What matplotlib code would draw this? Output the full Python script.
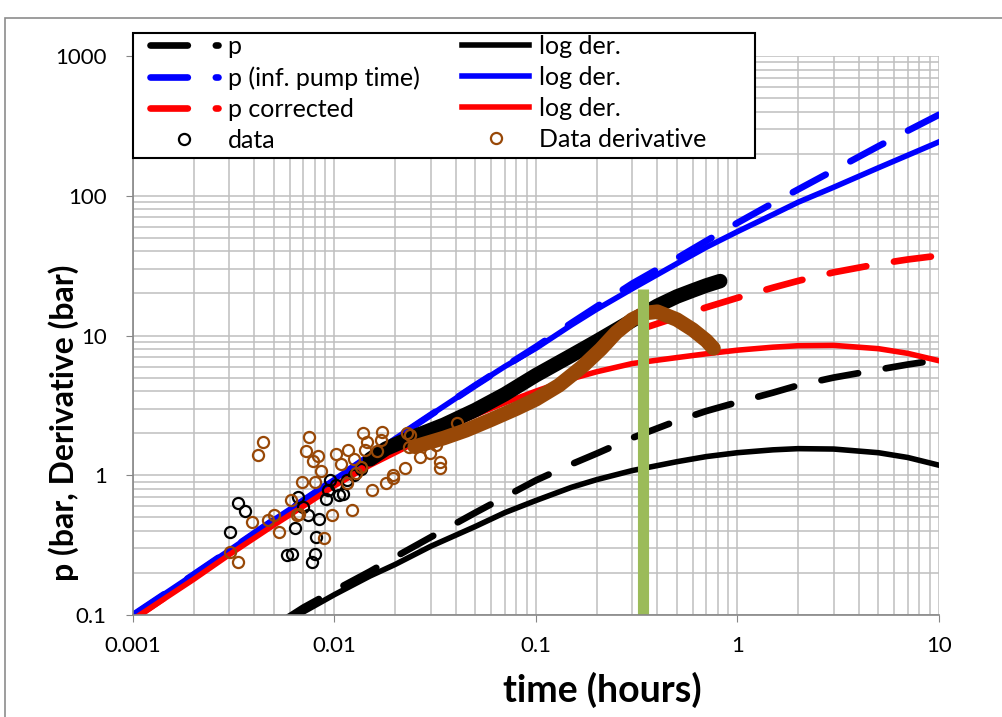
import matplotlib
matplotlib.use("Agg")
import matplotlib.pyplot as plt
from matplotlib.patches import Rectangle

plt.rcParams['font.family'] = ['Lato', 'DejaVu Sans']

# model curves, time in hours, pressure in bar
t_model = [0.001, 0.002, 0.003, 0.005, 0.007, 0.01, 0.015, 0.02, 0.03, 0.05, 0.07, 0.1,
           0.15, 0.2, 0.3, 0.5, 0.7, 1, 1.5, 2, 3, 5, 7, 10]
p_inf = [0.1, 0.195, 0.29, 0.48, 0.66, 0.935, 1.38, 1.83, 2.7, 4.4, 6.0, 8.3,
         12.3, 16.1, 23.5, 35.7, 47.5, 64, 88.6, 111, 152, 226, 292, 380]
der_inf = [0.1, 0.195, 0.29, 0.48, 0.66, 0.935, 1.38, 1.83, 2.7, 4.4, 6.0, 8.1,
           11.9, 15.4, 21.6, 32.7, 42.8, 55.4, 73.4, 89.9, 115, 158.5, 195, 243]
p_corr = [0.093, 0.185, 0.28, 0.46, 0.63, 0.88, 1.28, 1.62, 2.1, 3.05, 3.9, 5.3,
          7.2, 8.6, 10.6, 13.5, 15.9, 18.6, 22, 24.6, 28.3, 32.5, 35, 37.3]
der_corr = [0.093, 0.18, 0.27, 0.44, 0.6, 0.84, 1.18, 1.45, 1.95, 2.7, 3.3, 4.0,
            4.9, 5.5, 6.3, 6.95, 7.4, 7.85, 8.25, 8.45, 8.5, 8.05, 7.45, 6.6]

t_p = [0.0058, 0.007, 0.01, 0.015, 0.02, 0.03, 0.05, 0.07, 0.1, 0.15, 0.2, 0.3, 0.5,
       0.7, 1, 1.5, 2, 3, 5, 7, 10]
p_p = [0.095, 0.113, 0.15, 0.205, 0.26, 0.36, 0.54, 0.7, 0.92, 1.2, 1.43, 1.85, 2.45,
       2.88, 3.33, 3.9, 4.4, 5.0, 5.7, 6.2, 6.7]
der_p = [0.088, 0.105, 0.14, 0.19, 0.23, 0.31, 0.43, 0.54, 0.66, 0.82, 0.93, 1.08, 1.25,
         1.36, 1.45, 1.52, 1.55, 1.54, 1.45, 1.34, 1.18]

# measured pressure: scattered early points + dense part
t_data = [0.00333, 0.0036, 0.00303, 0.00662, 0.0070, 0.0074, 0.00635, 0.0084, 0.0081,
          0.00579, 0.00614, 0.008, 0.0077, 0.0095, 0.0093, 0.0091, 0.011, 0.0102, 0.0115,
          0.0125, 0.0135, 0.0105]
p_data = [0.63, 0.557, 0.39, 0.70, 0.595, 0.52, 0.42, 0.49, 0.363,
          0.269, 0.275, 0.275, 0.24, 0.925, 0.78, 0.68, 0.74, 0.85, 0.925,
          1.0, 1.1, 0.72]
t_data_dense = [0.015, 0.018, 0.025, 0.035, 0.05, 0.07, 0.1, 0.15, 0.2, 0.3, 0.4,
                0.5, 0.6, 0.7, 0.82]
p_data_dense = [1.3, 1.55, 1.9, 2.3, 2.93, 3.8, 5.2, 7.2, 9.1, 12.8, 16.3,
                19.0, 21.0, 22.8, 24.5]

# measured derivative: scattered early points + dense part
t_dd = [0.00443, 0.00416, 0.0075, 0.0072, 0.0083, 0.0078, 0.0086, 0.0069, 0.008,
        0.0061, 0.0050, 0.0047, 0.00388, 0.0053, 0.0065, 0.0067, 0.0097, 0.0122,
        0.0089, 0.00303, 0.00333, 0.0102, 0.0117, 0.0139, 0.0145, 0.0173, 0.0171,
        0.0142, 0.0162, 0.0196, 0.0181, 0.0153, 0.0136, 0.0128, 0.0115, 0.0236,
        0.0334, 0.0334, 0.0405, 0.0297, 0.032, 0.0228, 0.0196, 0.0224, 0.0266,
        0.0233, 0.0108, 0.0125]
d_dd = [1.74, 1.40, 1.89, 1.48, 1.37, 1.27, 1.07, 0.90, 0.90,
        0.67, 0.52, 0.48, 0.465, 0.39, 0.52, 0.53, 0.52, 0.56,
        0.354, 0.284, 0.24, 1.42, 1.52, 2.0, 1.74, 2.05, 1.79,
        1.52, 1.48, 0.95, 0.88, 0.79, 1.15, 1.03, 0.88, 1.94,
        1.25, 1.12, 2.36, 1.44, 1.65, 2.0, 1.0, 1.12, 1.36,
        1.6, 1.2, 1.3]
t_dd_dense = [0.025, 0.035, 0.045, 0.06, 0.08, 0.1, 0.13, 0.17, 0.21, 0.25, 0.3,
              0.35, 0.4, 0.5, 0.6, 0.7, 0.76]
d_dd_dense = [1.6, 1.85, 2.1, 2.5, 3.0, 3.5, 4.4, 6.0, 8.0, 10.5, 13.0,
              14.5, 14.8, 13.0, 11.0, 9.2, 8.1]

# end of pumping marker
t_stop = 0.338
p_stop = 21.5

brown = '#984807'
green = '#9BBB59'
grid_c = '#BFBFBF'

fig = plt.figure(figsize=(10.03, 7.17), dpi=100)
ax = fig.add_axes([133 / 1003, 102 / 717, 806 / 1003, 559 / 717])
ax.set_xscale('log')
ax.set_yscale('log')
ax.set_xlim(0.001, 10)
ax.set_ylim(0.1, 1000)

ax.grid(True, which='both', color=grid_c, lw=1.1)
ax.set_axisbelow(True)

dash = dict(dashes=(5.6, 4.2), dash_capstyle='round')
l_p, = ax.plot(t_p, p_p, color='black', lw=4.8, label='p', **dash)
l_pi, = ax.plot(t_model, p_inf, color='#0000FF', lw=4.8, label='p (inf. pump time)', **dash)
l_pc, = ax.plot(t_model, p_corr, color='#FF0000', lw=4.8, label='p corrected', **dash)
l_d, = ax.plot(t_p, der_p, color='black', lw=4.0, label='log der.')
l_di, = ax.plot(t_model, der_inf, color='#0000FF', lw=4.0, label='log der.')
l_dc, = ax.plot(t_model, der_corr, color='#FF0000', lw=4.0, label='log der.')

ax.plot(t_data_dense, p_data_dense, color='black', lw=10.5, solid_capstyle='round',
        solid_joinstyle='round')
l_data, = ax.plot(t_data, p_data, ls='none', marker='o', ms=8, mfc='none', mec='black',
                  mew=1.6, label='data')
ax.plot(t_dd_dense, d_dd_dense, color=brown, lw=10.5, solid_capstyle='round',
        solid_joinstyle='round')
l_dd, = ax.plot(t_dd, d_dd, ls='none', marker='o', ms=8, mfc='none', mec=brown,
                mew=1.6, label='Data derivative')

ax.plot([t_stop, t_stop], [0.1, p_stop], color=green, lw=8, solid_capstyle='butt')

ax.set_xticks([0.001, 0.01, 0.1, 1, 10])
ax.set_xticklabels(['0.001', '0.01', '0.1', '1', '10'])
ax.set_yticks([0.1, 1, 10, 100, 1000])
ax.set_yticklabels(['0.1', '1', '10', '100', '1000'])
ax.tick_params(which='major', length=5, color='#868686', labelsize=16)
ax.tick_params(axis='x', pad=10)
ax.tick_params(axis='y', pad=14)
ax.tick_params(which='minor', length=0)
for s in ['top', 'right']:
    ax.spines[s].set_visible(False)
for s in ['left', 'bottom']:
    ax.spines[s].set_color('#868686')
    ax.spines[s].set_linewidth(1.2)

fig.text(64 / 1003, 0.41, 'p (bar, Derivative (bar)', rotation=90, ha='center',
         va='center', fontsize=23, fontweight='bold')
fig.text(602 / 1003, 0.038, 'time (hours)', ha='center', va='center', fontsize=27,
         fontweight='bold')

# legend box drawn separately, legend itself without frame
ax.add_patch(Rectangle((133 / 1003, (717 - 158) / 717), 622 / 1003, 125 / 717,
                       transform=fig.transFigure, fc='white', ec='black', lw=1.5,
                       clip_on=False, zorder=4.9))
handles = [l_p, l_pi, l_pc, l_data, l_d, l_di, l_dc, l_dd]
leg = ax.legend(handles, [h.get_label() for h in handles], ncol=2, loc='upper left',
                bbox_to_anchor=(150 / 1003, (717 - 35) / 717),
                bbox_transform=fig.transFigure, borderaxespad=0, borderpad=0,
                frameon=False, fontsize=18, handlelength=2.7, handletextpad=0.4,
                labelspacing=0.32, columnspacing=1.7, numpoints=1)

fig.add_artist(Rectangle((5 / 1003, -0.05), 1.1, (717 - 18) / 717 + 0.05,
                         transform=fig.transFigure, fill=False, ec='#8c8c8c', lw=1.2))

fig.savefig('out.png', dpi=100)
